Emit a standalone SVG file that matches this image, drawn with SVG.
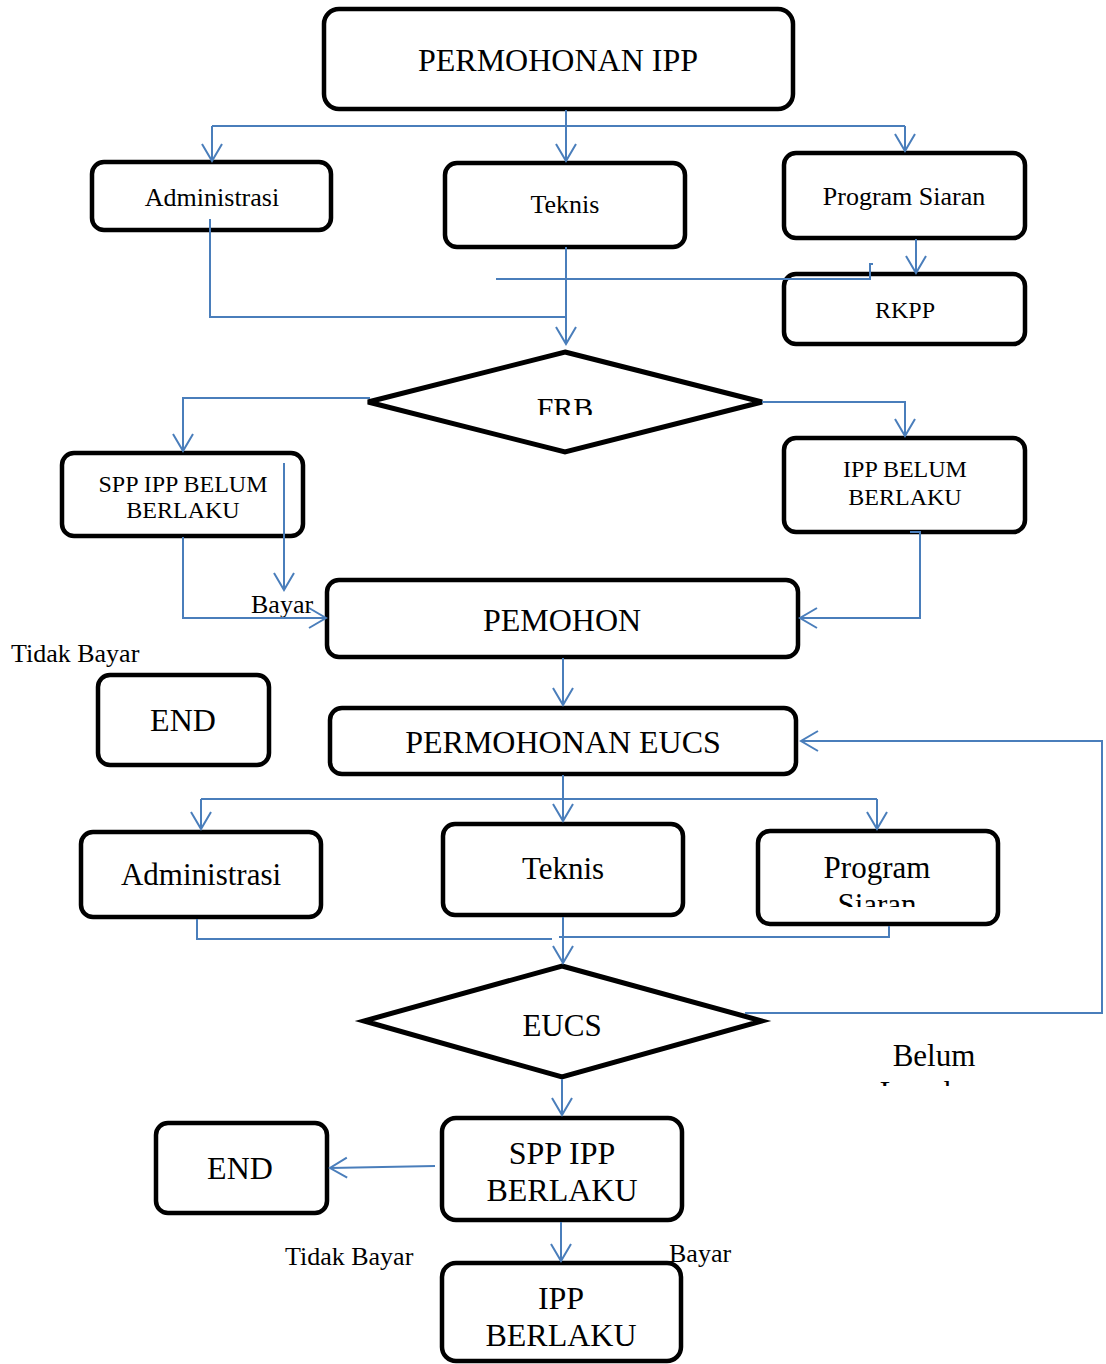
<svg xmlns="http://www.w3.org/2000/svg" width="1106" height="1364" viewBox="0 0 1106 1364">
<style>
.box{fill:#fff;stroke:#000;stroke-width:4.5}
.dia{fill:#fff;stroke:#000;stroke-width:5;stroke-linejoin:miter}
.t{font-family:"Liberation Serif","Times New Roman",serif;fill:#000;text-anchor:middle}
.l{font-family:"Liberation Serif","Times New Roman",serif;fill:#000}
.c{fill:none;stroke:#4a7ebb;stroke-width:2}
.a{marker-end:url(#arr)}
</style>
<defs>
<marker id="arr" markerUnits="userSpaceOnUse" markerWidth="24" markerHeight="24" viewBox="-20 -12 22 24" refX="0" refY="0" orient="auto">
<path d="M-17,-10 L0,0 L-17,10" fill="none" stroke="#4a7ebb" stroke-width="2"/>
</marker>
<clipPath id="clipFRB"><rect x="400" y="380" width="330" height="35"/></clipPath>
<clipPath id="clipSiaran"><rect x="760" y="840" width="236" height="67"/></clipPath>
<clipPath id="clipLunas"><rect x="850" y="1030" width="170" height="56"/></clipPath>
</defs>
<rect width="1106" height="1364" fill="#fff"/>

<g id="n-permohonan-ipp">
<rect class="box" x="324" y="9" width="469" height="100" rx="15"/>
<text class="t" x="558" y="71" font-size="32">PERMOHONAN IPP</text>
</g>
<g id="n-administrasi-1">
<rect class="box" x="92" y="162" width="239" height="68" rx="12"/>
<text class="t" x="212" y="206" font-size="26">Administrasi</text>
</g>
<g id="n-teknis-1">
<rect class="box" x="445" y="163" width="240" height="84" rx="12"/>
<text class="t" x="565" y="213" font-size="26">Teknis</text>
</g>
<g id="n-program-siaran-1">
<rect class="box" x="784" y="153" width="241" height="85" rx="12"/>
<text class="t" x="904" y="205" font-size="26">Program Siaran</text>
</g>
<g id="n-rkpp">
<rect class="box" x="784" y="274" width="241" height="70" rx="12"/>
<text class="t" x="905" y="318" font-size="24">RKPP</text>
</g>
<g id="n-frb">
<polygon class="dia" points="565,352 762,402 565,452 368,402"/>
<text class="t" x="565" y="418" font-size="30" clip-path="url(#clipFRB)">FRB</text>
</g>
<g id="n-spp-ipp-belum">
<rect class="box" x="62" y="453" width="241" height="83" rx="12"/>
<text class="t" x="183" y="492" font-size="24">SPP IPP BELUM</text>
<text class="t" x="183" y="518" font-size="24">BERLAKU</text>
</g>
<g id="n-ipp-belum">
<rect class="box" x="784" y="438" width="241" height="94" rx="12"/>
<text class="t" x="905" y="477" font-size="24">IPP BELUM</text>
<text class="t" x="905" y="505" font-size="24">BERLAKU</text>
</g>
<g id="n-pemohon">
<rect class="box" x="327" y="580" width="471" height="77" rx="12"/>
<text class="t" x="562" y="631" font-size="32">PEMOHON</text>
</g>
<g id="n-end-1">
<rect class="box" x="98" y="675" width="171" height="90" rx="12"/>
<text class="t" x="183" y="731" font-size="32">END</text>
</g>
<g id="n-permohonan-eucs">
<rect class="box" x="330" y="708" width="466" height="66" rx="12"/>
<text class="t" x="563" y="753" font-size="32">PERMOHONAN EUCS</text>
</g>
<g id="n-administrasi-2">
<rect class="box" x="81" y="832" width="240" height="85" rx="12"/>
<text class="t" x="201" y="885" font-size="31">Administrasi</text>
</g>
<g id="n-teknis-2">
<rect class="box" x="443" y="824" width="240" height="91" rx="12"/>
<text class="t" x="563" y="879" font-size="31">Teknis</text>
</g>
<g id="n-program-siaran-2">
<rect class="box" x="758" y="831" width="240" height="93" rx="12"/>
<text class="t" x="877" y="878" font-size="31">Program</text>
<text class="t" x="877" y="915" font-size="31" clip-path="url(#clipSiaran)">Siaran</text>
</g>
<g id="n-eucs">
<polygon class="dia" points="562,966 762,1021 562,1077 364,1021"/>
<text class="t" x="562" y="1036" font-size="31">EUCS</text>
</g>
<g id="n-belum-lengkap">
<text class="t" x="934" y="1066" font-size="31">Belum</text>
<text class="t" x="934" y="1103" font-size="31" clip-path="url(#clipLunas)">Lengkap</text>
</g>
<g id="n-end-2">
<rect class="box" x="156" y="1123" width="171" height="90" rx="12"/>
<text class="t" x="240" y="1179" font-size="32">END</text>
</g>
<g id="n-spp-ipp-berlaku">
<rect class="box" x="442" y="1118" width="240" height="102" rx="14"/>
<text class="t" x="562" y="1164" font-size="32">SPP IPP</text>
<text class="t" x="562" y="1201" font-size="32">BERLAKU</text>
</g>
<g id="n-ipp-berlaku">
<rect class="box" x="442" y="1263" width="239" height="98" rx="14"/>
<text class="t" x="561" y="1309" font-size="32">IPP</text>
<text class="t" x="561" y="1346" font-size="32">BERLAKU</text>
</g>
<g id="labels">
<text class="l" x="251" y="613" font-size="26">Bayar</text>
<text class="l" x="11" y="662" font-size="26">Tidak Bayar</text>
<text class="l" x="285" y="1265" font-size="26">Tidak Bayar</text>
<text class="l" x="669" y="1262" font-size="26">Bayar</text>
</g>

<g id="connectors">
<path class="c" d="M566,110 V126"/>
<path class="c" d="M212,126 H905"/>
<path class="c a" d="M566,126 V161"/>
<path class="c a" d="M212,126 V161"/>
<path class="c a" d="M905,126 V151"/>
<path class="c" d="M210,219 V317 H566"/>
<path class="c a" d="M566,247 V344"/>
<path class="c" d="M496,279 H870 V264 H873"/>
<path class="c a" d="M916,239 V273"/>
<path class="c a" d="M370,398 H183 V451"/>
<path class="c a" d="M762,402 H905 V436"/>
<path class="c a" d="M284,463 V590"/>
<path class="c a" d="M183,537 V618 H326"/>
<path class="c a" d="M910,532 H920 V618 H800"/>
<path class="c a" d="M563,658 V705"/>
<path class="c a" d="M563,775 V821"/>
<path class="c" d="M201,799 H877"/>
<path class="c a" d="M201,799 V829"/>
<path class="c a" d="M877,799 V829"/>
<path class="c" d="M197,919 V939 H552"/>
<path class="c" d="M889,926 V937 H559"/>
<path class="c a" d="M563,917 V963"/>
<path class="c a" d="M745,1013 H1102 V741 H801"/>
<path class="c a" d="M562,1079 V1115"/>
<path class="c a" d="M435,1166 L330,1168"/>
<path class="c a" d="M561,1222 V1261"/>
</g>
</svg>
